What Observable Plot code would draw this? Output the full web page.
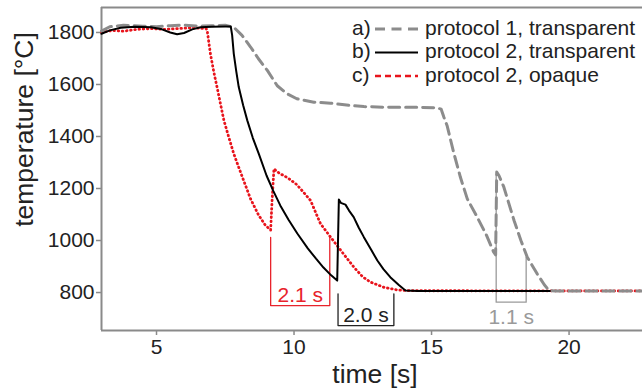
<!DOCTYPE html>
<html>
<head>
<meta charset="utf-8">
<script src="https://cdn.jsdelivr.net/npm/d3@7"></script>
<script src="https://cdn.jsdelivr.net/npm/@observablehq/plot@0.6"></script>
<style>
  html, body { margin: 0; padding: 0; background: #fff; }
  #chart { width: 642px; height: 392px; overflow: hidden; }
  svg { font-family: "Liberation Sans", Arial, sans-serif; }
  g[aria-label="x-axis tick"], g[aria-label="y-axis tick"] { stroke: #8a8a8a; stroke-width: 1.5; }
</style>
</head>
<body>
<div id="chart"></div>
<script>
// ---- data ----
const xTicks = [5, 10, 15, 20];
const yTicks = [800, 1000, 1200, 1400, 1600, 1800];

const seriesNames = ["a)", "b)", "c)"];
const seriesLabels = ["protocol 1, transparent", "protocol 2, transparent", "protocol 2, opaque"];

// a) protocol 1, transparent (gray dashed)
const grayTime = [3.0, 3.3, 3.8, 4.5, 5.0, 5.5, 6.0, 6.5, 7.0, 7.5, 7.81, 8.1, 8.42, 8.7, 9.03, 9.39, 9.75, 10.1, 10.72, 11.33, 12.0, 12.54, 13.5, 14.5, 15.2, 15.35, 15.45, 15.57, 15.8, 16.05, 16.3, 16.66, 17.0, 17.26, 17.33, 17.37, 17.45, 17.63, 18.0, 18.25, 18.48, 18.84, 19.1, 19.27, 19.5, 22.7];
const grayTemp = [1805, 1822, 1828, 1824, 1822, 1826, 1828, 1824, 1826, 1828, 1820, 1790, 1744, 1700, 1654, 1595, 1564, 1545, 1532, 1528, 1520, 1515, 1512, 1512, 1510, 1505, 1474, 1440, 1340, 1243, 1160, 1090, 1020, 955, 945, 1263, 1250, 1205, 1077, 1000, 936, 872, 830, 808, 806, 806];

// b) protocol 2, transparent (black solid)
const blackTime = [3.0, 3.3, 3.7, 4.2, 4.8, 5.2, 5.5, 5.75, 6.0, 6.3, 6.6, 7.0, 7.5, 7.7, 7.75, 7.81, 7.9, 7.99, 8.15, 8.3, 8.5, 8.72, 9.0, 9.25, 9.5, 9.8, 10.12, 10.5, 10.8, 11.07, 11.35, 11.57, 11.63, 11.7, 11.87, 12.0, 12.17, 12.35, 12.54, 12.8, 13.03, 13.25, 13.5, 13.8, 14.05, 14.5, 19.3];
const blackTemp = [1795, 1808, 1818, 1822, 1820, 1812, 1800, 1793, 1798, 1812, 1820, 1822, 1823, 1823, 1790, 1718, 1650, 1590, 1520, 1462, 1395, 1333, 1250, 1190, 1135, 1080, 1027, 970, 930, 896, 866, 846, 1158, 1145, 1138, 1115, 1090, 1050, 1013, 965, 923, 890, 859, 830, 808, 806, 806];

// c) protocol 2, opaque (red dotted)
const redTime = [3.0, 3.4, 3.8, 4.3, 4.8, 5.3, 5.8, 6.3, 6.8, 6.84, 6.96, 7.08, 7.2, 7.45, 7.62, 7.81, 8.1, 8.42, 8.7, 8.95, 9.15, 9.2, 9.27, 9.35, 9.5, 9.63, 9.85, 10.1, 10.35, 10.6, 10.96, 11.33, 11.7, 12.18, 12.5, 12.78, 13.27, 13.75, 14.2, 22.7];
const redTemp = [1800, 1808, 1805, 1812, 1815, 1812, 1815, 1818, 1815, 1810, 1718, 1650, 1590, 1462, 1400, 1333, 1250, 1160, 1100, 1060, 1040, 1150, 1276, 1268, 1256, 1250, 1235, 1215, 1185, 1154, 1065, 1013, 962, 897, 860, 840, 820, 810, 807, 806];

// annotation brackets
const bracketLabels = ["2.1 s", "2.0 s", "1.1 s"];
const bracketStart = [9.15, 11.6, 17.35];
const bracketEnd = [11.3, 13.63, 18.44];
const bracketTopLeft = [1012, 795, 1255];
const bracketTopRight = [1012, 795, 936];
const bracketBottom = [750, 673, 763];
const bracketTextTemp = [790, 712, 706];
const bracketColors = ["#e8232b", "#222222", "#9a9a9a"];

// ---- build tables ----
const gray = grayTime.map((t, i) => ({t, T: grayTemp[i]}));
const black = blackTime.map((t, i) => ({t, T: blackTemp[i]}));
const red = redTime.map((t, i) => ({t, T: redTemp[i]}));

const brackets = [];
bracketStart.forEach((s, i) => {
  brackets.push({k: i, t: s, T: bracketTopLeft[i]});
  brackets.push({k: i, t: s, T: bracketBottom[i]});
  brackets.push({k: i, t: bracketEnd[i], T: bracketBottom[i]});
  brackets.push({k: i, t: bracketEnd[i], T: bracketTopRight[i]});
});
const bracketText = bracketLabels.map((s, i) => ({s, t: (bracketStart[i] + bracketEnd[i]) / 2, T: bracketTextTemp[i], c: bracketColors[i]}));

const xDom = [3, 22.67];
const yDom = [654, 1896];

const chart = Plot.plot({
  width: 642,
  height: 392,
  marginLeft: 101,
  marginRight: 0,
  marginTop: 7,
  marginBottom: 62,
  style: {fontFamily: "Liberation Sans, Arial, sans-serif", fontSize: "21px", color: "#222", background: "#fff"},
  x: {domain: xDom},
  y: {domain: yDom},
  marks: [
    Plot.axisX({ticks: xTicks, tickSize: 5, tickPadding: 4, label: null, fontSize: 21, tickFormat: d3.format("d")}),
    Plot.axisY({ticks: yTicks, tickSize: 5, tickPadding: 2, label: null, fontSize: 21, tickFormat: d3.format("d")}),
    Plot.ruleY([yDom[1]], {stroke: "#8a8a8a", strokeWidth: 2}),
    Plot.ruleY([yDom[0]], {stroke: "#8a8a8a", strokeWidth: 2}),
    Plot.ruleX([xDom[0]], {stroke: "#8a8a8a", strokeWidth: 2}),
    Plot.line(brackets, {x: "t", y: "T", z: "k", stroke: d => bracketColors[d.k], strokeWidth: 1.3}),
    Plot.text(bracketText, {x: "t", y: "T", text: "s", fill: "c", fontSize: 21}),
    Plot.line(red, {x: "t", y: "T", stroke: "#e8141c", strokeWidth: 2.8, strokeDasharray: "0.6,3.6", strokeLinecap: "round"}),
    Plot.line(gray, {x: "t", y: "T", stroke: "#8c8c8c", strokeWidth: 3, strokeDasharray: "11,6"}),
    Plot.line(black, {x: "t", y: "T", stroke: "#000", strokeWidth: 2})
  ]
});
document.getElementById("chart").appendChild(chart);

// axis titles and legend
const svg = d3.select(chart);
svg.append("text").attr("x", 375).attr("y", 383).attr("text-anchor", "middle")
  .attr("font-size", 26.5).attr("fill", "#222").text("time [s]");
svg.append("text").attr("transform", "translate(33,129.5) rotate(-90)").attr("text-anchor", "middle")
  .attr("font-size", 26.5).attr("fill", "#222").text("temperature [°C]");

const legendRows = [28, 51.5, 75];
const legendStroke = ["#8c8c8c", "#000", "#e8141c"];
const legendDash = ["10,6.5", null, "6,4"];
const legendWidth = [3, 2.2, 2.6];
const lg = svg.append("g").attr("text-anchor", "start");
seriesNames.forEach((n, i) => {
  const y = legendRows[i];
  lg.append("text").attr("x", 352).attr("y", y + 6.5).attr("text-anchor", "start").attr("font-size", 21).attr("fill", "#222").text(n);
  const ln = lg.append("line").attr("x1", 375).attr("x2", 418).attr("y1", y + 1).attr("y2", y + 1)
    .attr("stroke", legendStroke[i]).attr("stroke-width", legendWidth[i]);
  if (legendDash[i]) ln.attr("stroke-dasharray", legendDash[i]);
  lg.append("text").attr("x", 425).attr("y", y + 6.5).attr("text-anchor", "start").attr("font-size", 21).attr("fill", "#222").text(seriesLabels[i]);
});
</script>
</body>
</html>
